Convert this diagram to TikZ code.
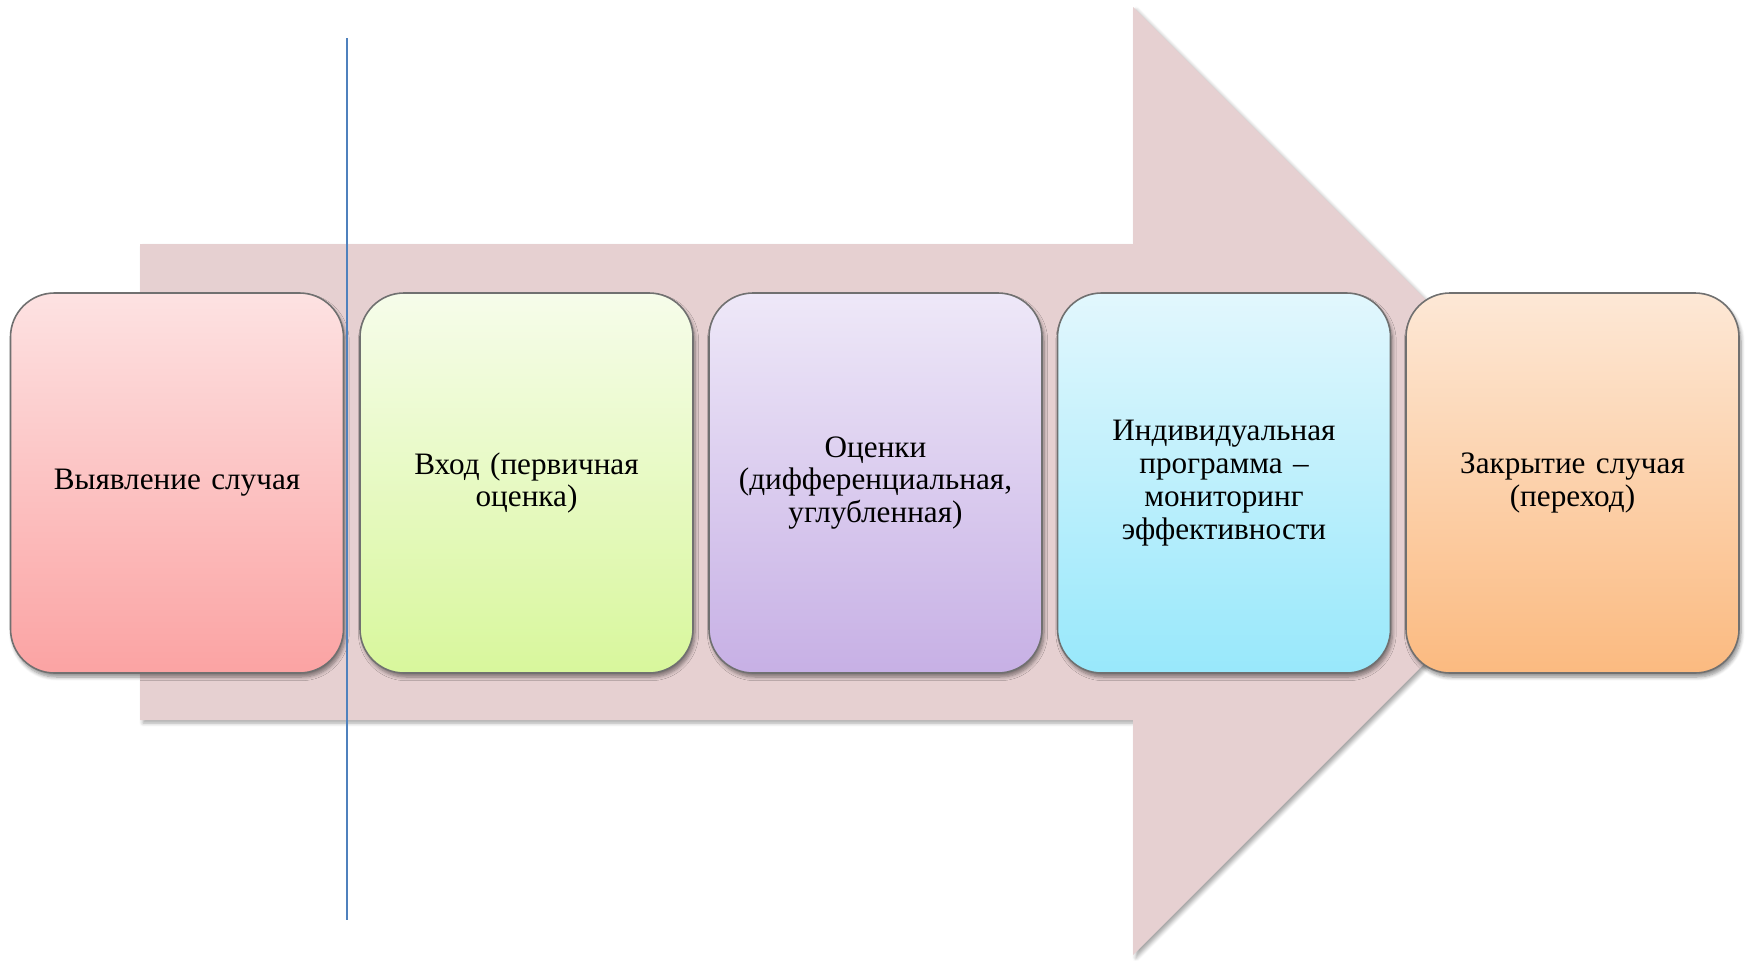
\documentclass[tikz,border=0pt]{standalone}
\usepackage{fontspec}
\setmainfont{Liberation Serif}
\usetikzlibrary{shadows.blur}
\definecolor{arrowfill}{HTML}{E6D0D1}
\definecolor{boxborder}{HTML}{707070}
\definecolor{lineblue}{HTML}{4F81BD}
\definecolor{aTop}{HTML}{FDE2E2}\definecolor{aBot}{HTML}{FBA3A3}
\definecolor{bTop}{HTML}{F6FCEA}\definecolor{bBot}{HTML}{D8F79C}
\definecolor{cTop}{HTML}{EEE8F8}\definecolor{cBot}{HTML}{C7B0E5}
\definecolor{dTop}{HTML}{E2F7FD}\definecolor{dBot}{HTML}{98E8FB}
\definecolor{eTop}{HTML}{FDE8D6}\definecolor{eBot}{HTML}{FBBA80}
\begin{document}
\begin{tikzpicture}[x=0.5pt,y=-0.5pt,
  stage/.style={rounded corners=22pt, draw=boxborder, line width=0.8pt,
    minimum width=166.5pt, minimum height=190pt, text width=150pt,
    align=center, inner sep=0pt, font=\fontsize{15.6}{16.4}\selectfont,
    blur shadow={shadow xshift=1pt, shadow yshift=-2pt, shadow blur steps=6, shadow opacity=45}},
  bigarrow/.style={fill=arrowfill,
    blur shadow={shadow xshift=1.5pt, shadow yshift=-1.5pt, shadow blur steps=5, shadow opacity=35}}]
\useasboundingbox (0,0) rectangle (1747,960);
% big background arrow
\path[bigarrow] (140,244) -- (1133,244) -- (1133,7) -- (1607,481) -- (1133,955) -- (1133,720) -- (140,720) -- cycle;
% stages
\node[stage, top color=aTop, bottom color=aBot] (s1) at (177,483) {Выявление случая};
\node[stage, top color=bTop, bottom color=bBot] (s2) at (526.5,483) {Вход (первичная\\оценка)};
\node[stage, top color=cTop, bottom color=cBot] (s3) at (875.5,483) {Оценки\\(дифференциальная,\\углубленная)};
\node[stage, top color=dTop, bottom color=dBot] (s4) at (1224,483) {Индивидуальная\\программа –\\мониторинг\\эффективности};
\node[stage, top color=eTop, bottom color=eBot] (s5) at (1572.5,483) {Закрытие случая\\(переход)};
% vertical blue line
\coordinate (ltop) at (347,38);
\coordinate (lbot) at (347,920);
\draw[lineblue, line width=1.4pt] (ltop) -- (lbot);
\end{tikzpicture}
\end{document}
